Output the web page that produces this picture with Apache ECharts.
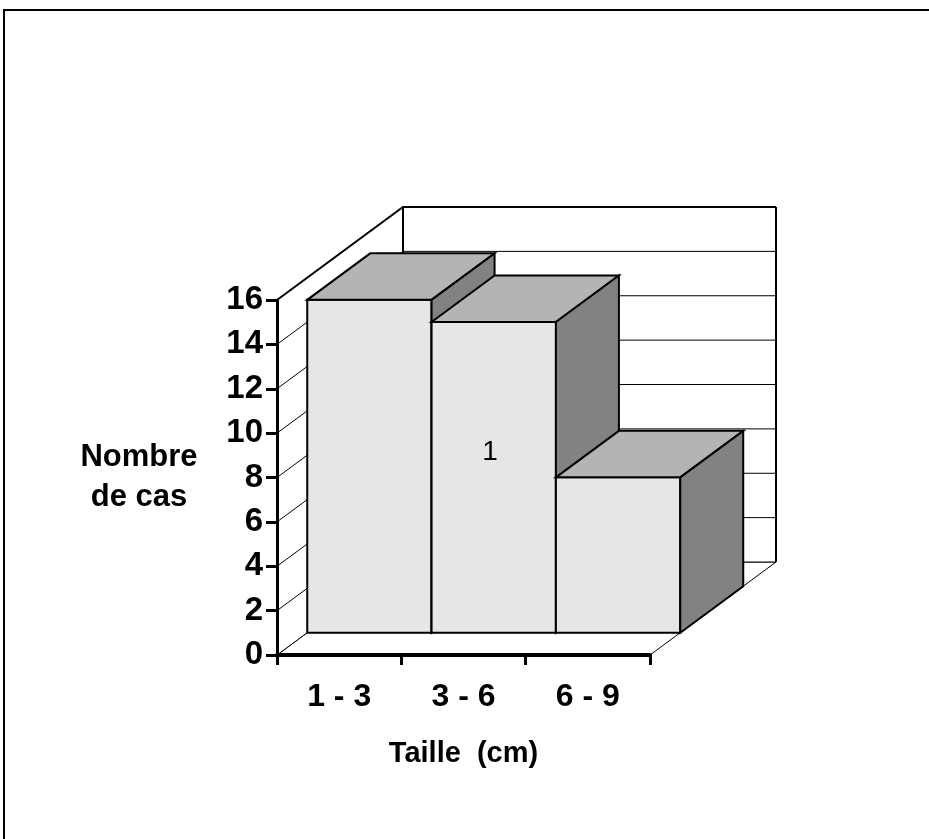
<!DOCTYPE html>
<html>
<head>
<meta charset="utf-8">
<script src="https://cdn.jsdelivr.net/npm/echarts@6/dist/echarts.min.js"></script>
<style>
  html, body { margin: 0; padding: 0; background: #ffffff; }
  #chart { width: 929px; height: 839px; }
</style>
</head>
<body>
<div id="chart"></div>
<script>
// Size classes and number of cases per class
const categories = ['1 - 3', '3 - 6', '6 - 9'];
const counts = [15, 14, 7];
const yTicks = [0, 2, 4, 6, 8, 10, 12, 14, 16];
const yMax = 16;

// Oblique projection of the chart box (pixels) and the depth slice bars occupy
const DEPTH = [126, -93];
const BAR_FRONT = 0.24;
const BAR_BACK = 0.74;
const FONT = "'Liberation Sans', Arial, sans-serif";

function shift(p, f) {
  return [p[0] + DEPTH[0] * f, p[1] + DEPTH[1] * f];
}

// Walls, floor and gridlines of the 3D box
function renderWalls(params, api) {
  const cs = params.coordSys;
  const left = cs.x, right = cs.x + cs.width;
  const y0 = api.coord([0, 0])[1];
  const yTop = api.coord([0, yMax])[1];
  const dx = DEPTH[0], dy = DEPTH[1];
  const thin = { stroke: '#000', lineWidth: 1, fill: null };
  const thick = { stroke: '#000', lineWidth: 2, fill: null };
  const children = [];
  // floor
  children.push({ type: 'polygon', shape: { points: [[left, y0], [right, y0], [right + dx, y0 + dy], [left + dx, y0 + dy]] },
    style: { fill: '#fff', stroke: '#000', lineWidth: 1 } });
  // left wall
  children.push({ type: 'polygon', shape: { points: [[left, y0], [left + dx, y0 + dy], [left + dx, yTop + dy], [left, yTop]] },
    style: { fill: '#fff', stroke: null } });
  // back wall
  children.push({ type: 'polygon', shape: { points: [[left + dx, y0 + dy], [right + dx, y0 + dy], [right + dx, yTop + dy], [left + dx, yTop + dy]] },
    style: { fill: '#fff', stroke: null } });
  // gridlines on both walls
  yTicks.forEach(function (v) {
    const y = api.coord([0, v])[1];
    children.push({ type: 'polyline', shape: { points: [[left, y], [left + dx, y + dy], [right + dx, y + dy]] },
      style: v === yMax ? thick : thin });
  });
  // wall edges
  children.push({ type: 'line', shape: { x1: right + dx, y1: y0 + dy, x2: right + dx, y2: yTop + dy }, style: thick });
  children.push({ type: 'line', shape: { x1: left + dx, y1: y0 + dy, x2: left + dx, y2: yTop + dy }, style: thick });
  return { type: 'group', children: children };
}

// One 3D box per category
function renderBar(params, api) {
  const idx = api.value(0);
  const val = api.value(1);
  const top = api.coord([idx, val]);
  const base = api.coord([idx, 0]);
  const w = api.size([1, 0])[0];
  const xl = top[0] - w / 2, xr = top[0] + w / 2;
  const fTL = shift([xl, top[1]], BAR_FRONT), fTR = shift([xr, top[1]], BAR_FRONT);
  const fBL = shift([xl, base[1]], BAR_FRONT), fBR = shift([xr, base[1]], BAR_FRONT);
  const bTL = shift([xl, top[1]], BAR_BACK), bTR = shift([xr, top[1]], BAR_BACK);
  const bBR = shift([xr, base[1]], BAR_BACK);
  const edge = { stroke: '#000', lineWidth: 2, lineJoin: 'miter' };
  return {
    type: 'group',
    children: [
      { type: 'polygon', shape: { points: [fTL, fTR, fBR, fBL] }, style: Object.assign({ fill: '#e6e6e6' }, edge) },
      { type: 'polygon', shape: { points: [fTL, fTR, bTR, bTL] }, style: Object.assign({ fill: '#b4b4b4' }, edge) },
      { type: 'polygon', shape: { points: [fTR, bTR, bBR, fBR] }, style: Object.assign({ fill: '#828282' }, edge) }
    ]
  };
}

const chart = echarts.init(document.getElementById('chart'), null, { renderer: 'canvas' });

chart.setOption({
  backgroundColor: '#ffffff',
  animation: false,
  textStyle: { fontFamily: FONT },
  grid: { left: 277, top: 300, width: 373, height: 355, containLabel: false },
  xAxis: {
    type: 'category',
    data: categories,
    boundaryGap: true,
    z: 10,
    axisLine: { show: true, lineStyle: { color: '#000', width: 4 } },
    axisTick: { show: true, length: 10, lineStyle: { color: '#000', width: 3 } },
    axisLabel: { color: '#000', fontSize: 32, fontWeight: 'bold', fontFamily: FONT, margin: 26 },
    splitLine: { show: false },
    name: 'Taille  (cm)',
    nameLocation: 'middle',
    nameGap: 99,
    nameTextStyle: { color: '#000', fontSize: 29, fontWeight: 'bold', fontFamily: FONT, verticalAlign: 'middle' }
  },
  yAxis: {
    type: 'value',
    min: 0,
    max: yMax,
    interval: 2,
    z: 10,
    axisLine: { show: true, lineStyle: { color: '#000', width: 3 } },
    axisTick: { show: true, length: 11, lineStyle: { color: '#000', width: 3 } },
    axisLabel: { color: '#000', fontSize: 33, fontWeight: 'bold', fontFamily: FONT, margin: 14 },
    splitLine: { show: false },
    name: 'Nombre\nde cas',
    nameLocation: 'middle',
    nameRotate: 0,
    nameGap: 138,
    nameTextStyle: { color: '#000', fontSize: 31, fontWeight: 'bold', fontFamily: FONT, align: 'center', verticalAlign: 'middle', lineHeight: 40, padding: [10, 0, 0, 0] }
  },
  graphic: [
    { type: 'polyline', shape: { points: [[4, 900], [4, 10], [1100, 10]] }, style: { fill: null, stroke: '#000', lineWidth: 2 }, silent: true, z: 0 },
    { type: 'text', x: 490, y: 452, style: { text: '1', fontSize: 28, fontFamily: FONT, fill: '#000', align: 'center', verticalAlign: 'middle' }, z: 100 }
  ],
  series: [
    {
      type: 'custom',
      name: 'box',
      renderItem: renderWalls,
      data: [[0, 0]],
      silent: true,
      z: 1
    },
    {
      type: 'custom',
      name: 'Nombre de cas',
      renderItem: renderBar,
      encode: { x: 0, y: 1 },
      data: counts.map(function (v, i) { return [i, v]; }),
      z: 2
    }
  ]
});
</script>
</body>
</html>
